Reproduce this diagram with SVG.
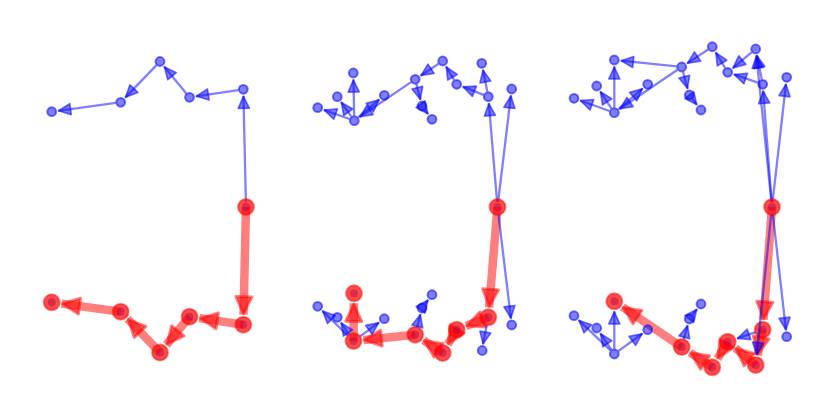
<svg xmlns="http://www.w3.org/2000/svg" width="830" height="415" viewBox="0 0 830 415">
<style>
.be{stroke:#0000ff;stroke-opacity:.5;stroke-width:2.3;fill:none;marker-end:url(#bh)}
.re{stroke:#ff0000;stroke-opacity:.5;stroke-width:8.5;fill:none;marker-end:url(#rh)}
.bn{fill:#0000ff;fill-opacity:.5;stroke:#0000ff;stroke-opacity:.55;stroke-width:2}
.rn{fill:#ff0000;fill-opacity:.7;stroke:#ff0000;stroke-opacity:.45;stroke-width:2}
.ub{fill:#0000ff;fill-opacity:.45}
</style>
<defs>
<marker id="bh" markerUnits="userSpaceOnUse" orient="auto" refX="0" refY="0" markerWidth="1" markerHeight="1" overflow="visible">
<path d="M-0.5,0 L-12.5,-5.5 L-12.5,5.5 Z" fill="#0000ff" fill-opacity=".5" stroke="#0000ff" stroke-opacity=".55" stroke-width="1.7" stroke-linejoin="round"/>
</marker>
<marker id="rh" markerUnits="userSpaceOnUse" orient="auto" refX="0" refY="0" markerWidth="1" markerHeight="1" overflow="visible">
<path d="M-1,0 L-18,-8 L-18,8 Z" fill="#ff0000" fill-opacity=".55" stroke="#ff0000" stroke-opacity=".5" stroke-width="3" stroke-linejoin="round"/>
</marker>
</defs>
<rect width="830" height="415" fill="#ffffff"/>

<!-- ===== Panel 1 ===== -->
<g id="p1-top-connectors">
<line class="be" x1="245.9" y1="202" x2="243.45" y2="95.8"/>
<line class="be" x1="238.35" y1="90.04" x2="195.93" y2="96.34"/>
<line class="be" x1="186.32" y1="93.44" x2="164.13" y2="66.52"/>
<line class="be" x1="156.53" y1="65.1" x2="125.21" y2="97.62"/>
<line class="be" x1="115.75" y1="102.98" x2="58.14" y2="110.82"/>
</g>
<g id="p1-n1"><circle class="bn" cx="243.3" cy="89.3" r="4.4"/></g>
<g id="p1-n2"><circle class="bn" cx="189.5" cy="97.3" r="4.4"/></g>
<g id="p1-n3"><circle class="bn" cx="160" cy="61.5" r="4.4"/></g>
<g id="p1-n4"><circle class="bn" cx="120.7" cy="102.3" r="4.4"/></g>
<g id="p1-n5"><circle class="bn" cx="51.7" cy="111.7" r="4.4"/></g>
<g id="p1-path-connectors">
<line class="re" x1="246" y1="207" x2="243.53" y2="314.7"/>
<line class="re" x1="243.3" y1="324.7" x2="199.39" y2="318.17"/>
<line class="re" x1="189.5" y1="316.7" x2="166.36" y2="344.78"/>
<line class="re" x1="160" y1="352.5" x2="127.64" y2="318.9"/>
<line class="re" x1="120.7" y1="311.7" x2="61.61" y2="303.65"/>
</g>
<g id="p1-root"><circle class="ub" cx="246" cy="207" r="4"/><circle class="rn" cx="246" cy="207" r="8"/></g>
<g id="p1-m1"><circle class="ub" cx="243.3" cy="324.7" r="4"/><circle class="rn" cx="243.3" cy="324.7" r="8"/></g>
<g id="p1-m2"><circle class="ub" cx="189.5" cy="316.7" r="4"/><circle class="rn" cx="189.5" cy="316.7" r="8"/></g>
<g id="p1-m3"><circle class="ub" cx="160" cy="352.5" r="4"/><circle class="rn" cx="160" cy="352.5" r="8"/></g>
<g id="p1-m4"><circle class="ub" cx="120.7" cy="311.7" r="4"/><circle class="rn" cx="120.7" cy="311.7" r="8"/></g>
<g id="p1-m5"><circle class="ub" cx="51.7" cy="302.3" r="4"/><circle class="rn" cx="51.7" cy="302.3" r="8"/></g>

<!-- ===== Panel 2 ===== -->
<g id="p2-top-connectors">
<line class="be" x1="497.08" y1="202.02" x2="488.84" y2="103.18"/>
<line class="be" x1="498.1" y1="202.04" x2="510.92" y2="95.45"/>
<line class="be" x1="487.33" y1="91.8" x2="482.96" y2="69.68"/>
<line class="be" x1="483.65" y1="94.87" x2="462.75" y2="86.67"/>
<line class="be" x1="454.12" y1="80.01" x2="446.05" y2="66.57"/>
<line class="be" x1="438.54" y1="63.77" x2="420.61" y2="75.7"/>
<line class="be" x1="416.43" y1="84.15" x2="420.4" y2="99.7"/>
<line class="be" x1="425" y1="110" x2="428.09" y2="114.1"/>
<line class="be" x1="411.06" y1="82.11" x2="359.68" y2="117.05"/>
<line class="be" x1="349.59" y1="119.03" x2="323.82" y2="109.88"/>
<line class="be" x1="351.41" y1="116.62" x2="341.06" y2="102"/>
<line class="be" x1="354.2" y1="115.7" x2="353.44" y2="79.5"/>
<line class="be" x1="358.12" y1="117.47" x2="379.34" y2="99.5"/>
</g>
<g id="p2-a"><circle class="bn" cx="317.7" cy="107.7" r="4.4"/></g>
<g id="p2-b"><circle class="bn" cx="337.3" cy="96.7" r="4.4"/></g>
<g id="p2-c"><circle class="bn" cx="353.3" cy="73" r="4.4"/></g>
<g id="p2-d"><circle class="bn" cx="354.3" cy="120.7" r="4.4"/></g>
<g id="p2-e"><circle class="bn" cx="384.3" cy="95.3" r="4.4"/></g>
<g id="p2-f"><circle class="bn" cx="415.2" cy="79.3" r="4.4"/></g>
<g id="p2-g"><circle class="bn" cx="442.7" cy="61" r="4.4"/></g>
<g id="p2-h"><circle class="bn" cx="456.7" cy="84.3" r="4.4"/></g>
<g id="p2-i"><circle class="bn" cx="422" cy="106" r="4.4"/></g>
<g id="p2-j"><circle class="bn" cx="432" cy="119.3" r="4.4"/></g>
<g id="p2-k"><circle class="bn" cx="481.7" cy="63.3" r="4.4"/></g>
<g id="p2-l"><circle class="bn" cx="488.3" cy="96.7" r="4.4"/></g>
<g id="p2-m"><circle class="bn" cx="511.7" cy="89" r="4.4"/></g>
<g id="p2-path-connectors">
<line class="re" x1="497.5" y1="207" x2="489.13" y2="307.33"/>
<line class="re" x1="488.3" y1="317.3" x2="466.01" y2="326.05"/>
<line class="re" x1="456.7" y1="329.7" x2="447.85" y2="344.43"/>
<line class="re" x1="442.7" y1="353" x2="423.53" y2="340.24"/>
<line class="re" x1="415.2" y1="334.7" x2="363.45" y2="339.98"/>
<line class="re" x1="353.5" y1="341" x2="353.9" y2="303.3"/>
</g>
<g id="p2-root"><circle class="ub" cx="497.5" cy="207" r="4"/><circle class="rn" cx="497.5" cy="207" r="8"/></g>
<g id="p2-l2"><circle class="ub" cx="488.3" cy="317.3" r="4"/><circle class="rn" cx="488.3" cy="317.3" r="8"/></g>
<g id="p2-h2"><circle class="ub" cx="456.7" cy="329.7" r="4"/><circle class="rn" cx="456.7" cy="329.7" r="8"/></g>
<g id="p2-g2"><circle class="ub" cx="442.7" cy="353" r="4"/><circle class="rn" cx="442.7" cy="353" r="8"/></g>
<g id="p2-f2"><circle class="ub" cx="415.2" cy="334.7" r="4"/><circle class="rn" cx="415.2" cy="334.7" r="8"/></g>
<g id="p2-hub2"><circle class="ub" cx="353.5" cy="341" r="4"/><circle class="rn" cx="353.5" cy="341" r="8"/></g>
<g id="p2-goal2"><circle class="ub" cx="354" cy="293.3" r="4"/><circle class="rn" cx="354" cy="293.3" r="8"/></g>
<g id="p2-bottom-connectors">
<line class="be" x1="486.75" y1="325.15" x2="482.96" y2="344.32"/>
<line class="be" x1="498.46" y1="214.94" x2="510.92" y2="318.55"/>
<line class="be" x1="347.76" y1="335.43" x2="322.37" y2="310.82"/>
<line class="be" x1="348.99" y1="334.4" x2="340.97" y2="322.67"/>
<line class="be" x1="359.98" y1="336.31" x2="379.04" y2="322.51"/>
<line class="be" x1="417.17" y1="326.95" x2="420.4" y2="314.3"/>
<line class="be" x1="425" y1="304" x2="428.09" y2="299.9"/>
</g>
<g id="p2-a2"><circle class="bn" cx="317.7" cy="306.3" r="4.4"/></g>
<g id="p2-b2"><circle class="bn" cx="337.3" cy="317.3" r="4.4"/></g>
<g id="p2-e2"><circle class="bn" cx="384.3" cy="318.7" r="4.4"/></g>
<g id="p2-i2"><circle class="bn" cx="422" cy="308" r="4.4"/></g>
<g id="p2-j2"><circle class="bn" cx="432" cy="294.7" r="4.4"/></g>
<g id="p2-k2"><circle class="bn" cx="482.2" cy="350.5" r="4.4"/></g>
<g id="p2-m2"><circle class="bn" cx="511.7" cy="325" r="4.4"/></g>

<!-- ===== Panel 3 ===== -->
<g id="p3-top-connectors">
<line class="be" x1="771.62" y1="202.01" x2="763.19" y2="90.78"/>
<line class="be" x1="771.49" y1="202.03" x2="756.37" y2="55.47"/>
<line class="be" x1="772.56" y1="202.03" x2="785.97" y2="83.76"/>
<line class="be" x1="761.73" y1="79.4" x2="756.96" y2="55.38"/>
<line class="be" x1="757.97" y1="82.68" x2="733.85" y2="74.41"/>
<line class="be" x1="751.86" y1="52.2" x2="732.7" y2="68.14"/>
<line class="be" x1="725.12" y1="68.02" x2="715.65" y2="52.27"/>
<line class="be" x1="708.13" y1="49.46" x2="687.12" y2="63.41"/>
<line class="be" x1="676.73" y1="66.48" x2="620.77" y2="60.67"/>
<line class="be" x1="677.56" y1="69.81" x2="619.68" y2="109.05"/>
<line class="be" x1="683.01" y1="71.83" x2="687.6" y2="88.73"/>
<line class="be" x1="692.38" y1="98.94" x2="697" y2="104.87"/>
<line class="be" x1="609.59" y1="111.02" x2="580.12" y2="100.49"/>
<line class="be" x1="611.55" y1="108.53" x2="600.28" y2="91.43"/>
<line class="be" x1="614.3" y1="107.7" x2="614.3" y2="66.5"/>
<line class="be" x1="618.11" y1="109.46" x2="642.75" y2="88.51"/>
</g>
<g id="p3-a"><circle class="bn" cx="574" cy="98.3" r="4.4"/></g>
<g id="p3-b"><circle class="bn" cx="596.7" cy="86" r="4.4"/></g>
<g id="p3-c"><circle class="bn" cx="614.3" cy="60" r="4.4"/></g>
<g id="p3-d"><circle class="bn" cx="614.3" cy="112.7" r="4.4"/></g>
<g id="p3-e"><circle class="bn" cx="647.7" cy="84.3" r="4.4"/></g>
<g id="p3-f"><circle class="bn" cx="681.7" cy="67" r="4.4"/></g>
<g id="p3-g"><circle class="bn" cx="712.3" cy="46.7" r="4.4"/></g>
<g id="p3-h"><circle class="bn" cx="727.7" cy="72.3" r="4.4"/></g>
<g id="p3-i"><circle class="bn" cx="689.3" cy="95" r="4.4"/></g>
<g id="p3-j"><circle class="bn" cx="701" cy="110" r="4.4"/></g>
<g id="p3-k"><circle class="bn" cx="755.7" cy="49" r="4.4"/></g>
<g id="p3-l"><circle class="bn" cx="762.7" cy="84.3" r="4.4"/></g>
<g id="p3-m"><circle class="bn" cx="786.7" cy="77.3" r="4.4"/></g>
<g id="p3-path-connectors">
<line class="re" x1="772" y1="207" x2="763.46" y2="319.73"/>
<line class="re" x1="762.7" y1="329.7" x2="757.65" y2="355.19"/>
<line class="re" x1="755.7" y1="365" x2="735.39" y2="348.1"/>
<line class="re" x1="727.7" y1="341.7" x2="717.45" y2="358.73"/>
<line class="re" x1="712.3" y1="367.3" x2="690.03" y2="352.53"/>
<line class="re" x1="681.7" y1="347" x2="622.58" y2="306.91"/>
</g>
<g id="p3-root"><circle class="ub" cx="772" cy="207" r="4"/><circle class="rn" cx="772" cy="207" r="8"/></g>
<g id="p3-l2"><circle class="ub" cx="762.7" cy="329.7" r="4"/><circle class="rn" cx="762.7" cy="329.7" r="8"/></g>
<g id="p3-k2"><circle class="ub" cx="755.7" cy="365" r="4"/><circle class="rn" cx="755.7" cy="365" r="8"/></g>
<g id="p3-h2"><circle class="ub" cx="727.7" cy="341.7" r="4"/><circle class="rn" cx="727.7" cy="341.7" r="8"/></g>
<g id="p3-g2"><circle class="ub" cx="712.3" cy="367.3" r="4"/><circle class="rn" cx="712.3" cy="367.3" r="8"/></g>
<g id="p3-f2"><circle class="ub" cx="681.7" cy="347" r="4"/><circle class="rn" cx="681.7" cy="347" r="8"/></g>
<g id="p3-goal2"><circle class="ub" cx="614.3" cy="301.3" r="4"/><circle class="rn" cx="614.3" cy="301.3" r="8"/></g>
<g id="p3-bottom-connectors">
<line class="be" x1="771.18" y1="214.96" x2="756.73" y2="355.05"/>
<line class="be" x1="772.9" y1="214.95" x2="785.97" y2="330.24"/>
<line class="be" x1="755.13" y1="332.29" x2="737.16" y2="338.46"/>
<line class="be" x1="610.68" y1="350.56" x2="578.71" y2="320.18"/>
<line class="be" x1="611.5" y1="349.86" x2="600.34" y2="333.38"/>
<line class="be" x1="614.3" y1="349" x2="614.3" y2="311.3"/>
<line class="be" x1="618.34" y1="351.06" x2="642.44" y2="333.52"/>
<line class="be" x1="683.8" y1="339.28" x2="687.6" y2="325.27"/>
<line class="be" x1="692.38" y1="315.06" x2="697" y2="309.13"/>
</g>
<g id="p3-a2"><circle class="bn" cx="574" cy="315.7" r="4.4"/></g>
<g id="p3-b2"><circle class="bn" cx="596.7" cy="328" r="4.4"/></g>
<g id="p3-hub2"><circle class="bn" cx="614.3" cy="354" r="4.4"/></g>
<g id="p3-e2"><circle class="bn" cx="647.7" cy="329.7" r="4.4"/></g>
<g id="p3-i2"><circle class="bn" cx="689.3" cy="319" r="4.4"/></g>
<g id="p3-j2"><circle class="bn" cx="701" cy="304" r="4.4"/></g>
<g id="p3-m2"><circle class="bn" cx="786.7" cy="336.7" r="4.4"/></g>
</svg>
